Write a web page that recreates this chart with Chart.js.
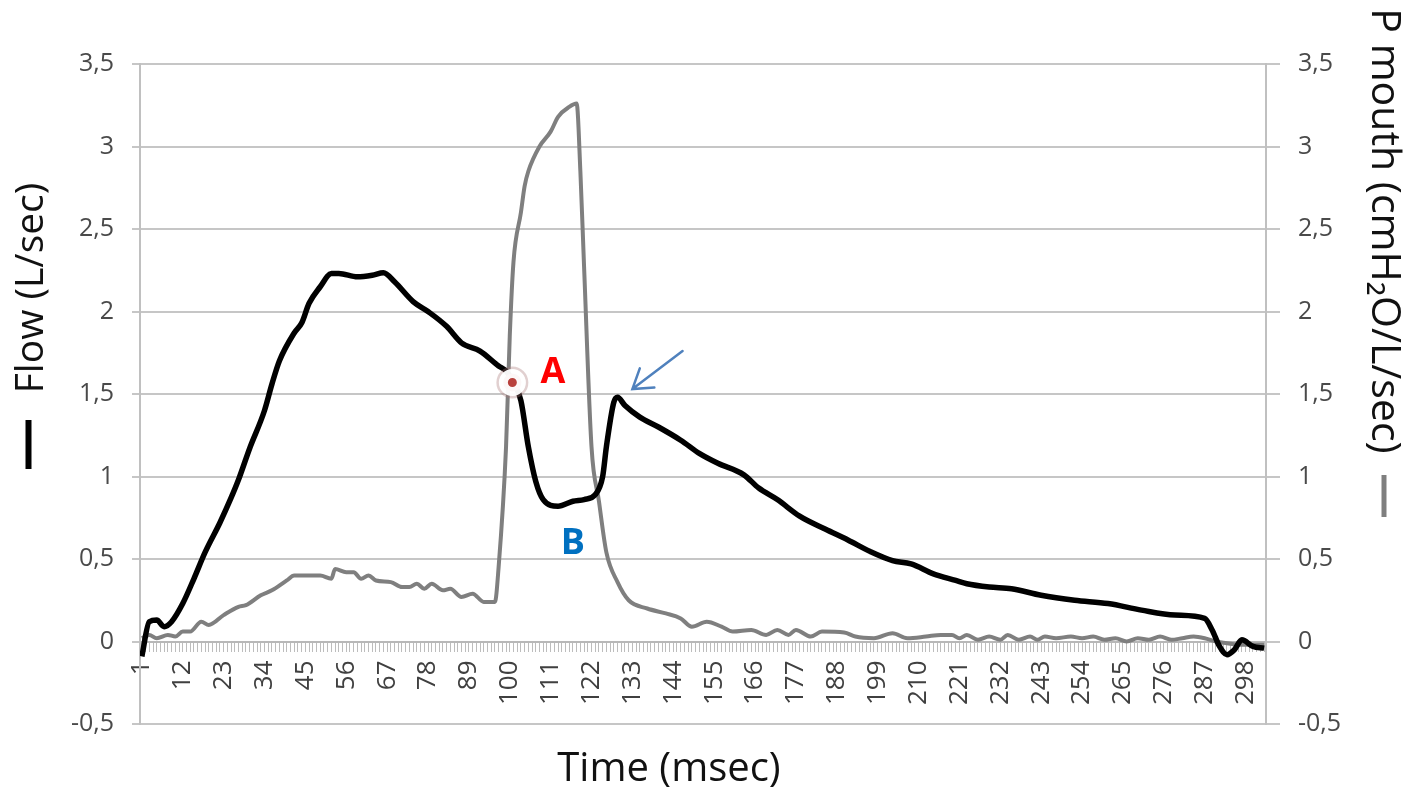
<!DOCTYPE html>
<html>
<head>
<meta charset="utf-8">
<script src="https://cdn.jsdelivr.net/npm/chart.js@4.4.1/dist/chart.umd.min.js"></script>
<style>
  html, body { margin: 0; padding: 0; background: #fff; }
  #wrap { width: 1423px; height: 798px; position: relative; }
</style>
</head>
<body>
<div id="wrap"><canvas id="flowChart"></canvas></div>
<script>
// Flow (L/sec), black line
const flowTime = [1, 3, 5, 7, 9, 12, 15, 18, 22, 25, 27, 30, 34, 36, 38, 42, 44, 46, 49, 52, 54, 59, 63, 66, 69, 74, 78, 83, 87, 92, 97, 99, 101, 103, 105, 107, 109, 113, 117, 120, 123, 125, 126, 128, 129, 131, 135, 140, 146, 151, 156, 163, 167, 172, 178, 185, 191, 197, 203, 208, 214, 220, 223, 229, 235, 243, 252, 261, 270, 279, 287, 289, 291, 293, 295, 297, 300, 303];
const flowValue = [-0.09, 0.12, 0.13, 0.09, 0.12, 0.23, 0.38, 0.54, 0.72, 0.87, 0.98, 1.17, 1.4, 1.56, 1.7, 1.87, 1.93, 2.05, 2.15, 2.23, 2.23, 2.21, 2.22, 2.235, 2.18, 2.06, 2.0, 1.91, 1.81, 1.76, 1.67, 1.64, 1.57, 1.46, 1.18, 0.97, 0.86, 0.82, 0.85, 0.86, 0.89, 1.0, 1.18, 1.45, 1.48, 1.43, 1.36, 1.30, 1.22, 1.14, 1.08, 1.01, 0.93, 0.86, 0.76, 0.68, 0.615, 0.545, 0.49, 0.47, 0.41, 0.37, 0.35, 0.33, 0.32, 0.28, 0.25, 0.23, 0.19, 0.16, 0.14, 0.07, -0.03, -0.08, -0.05, 0.01, -0.03, -0.04];

// P mouth (cmH2O/L/sec), gray line
const pressTime = [1, 3, 5, 8, 10, 12, 14, 17, 19, 23, 27, 29, 33, 36, 40, 42, 45, 49, 52, 53, 56, 58, 60, 62, 64, 68, 71, 73, 75, 77, 79, 82, 84, 87, 90, 93, 96, 97, 99, 100, 101, 103, 104, 105, 108, 111, 113, 116, 118, 119, 120, 122, 124, 126, 129, 132, 137, 142, 146, 149, 153, 157, 160, 165, 169, 172, 175, 177, 181, 184, 190, 193, 198, 203, 207, 212, 216, 219, 221, 223, 226, 229, 232, 234, 237, 240, 242, 244, 247, 251, 254, 257, 260, 263, 266, 269, 272, 275, 278, 281, 284, 287, 290, 293, 296, 299, 303];
const pressValue = [0.02, 0.04, 0.02, 0.04, 0.03, 0.06, 0.06, 0.12, 0.10, 0.16, 0.21, 0.22, 0.28, 0.31, 0.37, 0.40, 0.40, 0.40, 0.38, 0.44, 0.42, 0.42, 0.38, 0.40, 0.37, 0.36, 0.33, 0.33, 0.35, 0.32, 0.35, 0.31, 0.32, 0.27, 0.29, 0.24, 0.24, 0.45, 1.18, 1.85, 2.3, 2.6, 2.76, 2.85, 3.0, 3.09, 3.18, 3.24, 3.26, 2.85, 2.27, 1.18, 0.85, 0.54, 0.36, 0.25, 0.20, 0.17, 0.14, 0.09, 0.12, 0.09, 0.06, 0.07, 0.04, 0.07, 0.04, 0.07, 0.03, 0.06, 0.055, 0.03, 0.02, 0.05, 0.02, 0.03, 0.04, 0.04, 0.02, 0.04, 0.01, 0.03, 0.01, 0.04, 0.01, 0.03, 0.01, 0.03, 0.02, 0.03, 0.02, 0.03, 0.01, 0.02, 0.0, 0.02, 0.01, 0.03, 0.01, 0.02, 0.03, 0.02, 0.0, -0.01, -0.02, -0.02, -0.02];

// marked point A on the flow curve
const pointA = [{ x: 100.7, y: 1.57 }];

// tick labels
const xLabels = [1, 12, 23, 34, 45, 56, 67, 78, 89, 100, 111, 122, 133, 144, 155, 166, 177, 188, 199, 210, 221, 232, 243, 254, 265, 276, 287, 298];
const yTicks = [-0.5, 0, 0.5, 1, 1.5, 2, 2.5, 3, 3.5];
const sampleCount = 303;

// annotation anchors (data units)
const labelA = { text: 'A', x: 111.6, y: 1.63 };
const labelB = { text: 'B', x: 117, y: 0.59 };
const arrowFrom = { x: 146.5, y: 1.76 };
const arrowTo = { x: 133, y: 1.53 };

const leftTitle = 'Flow (L/sec)';
const rightTitle = 'P mouth (cmH\u2082O/L/sec)';
const bottomTitle = 'Time (msec)';

const FONT = '"Open Sans", "Noto Sans", sans-serif';
Chart.defaults.font.family = FONT;

const comma = v => String(v).replace('.', ',');

const axisTitles = {
    id: 'axisTitles',
    afterDraw(chart) {
        const ctx = chart.ctx;
        ctx.save();
        ctx.fillStyle = '#111';
        ctx.textAlign = 'center';
        ctx.textBaseline = 'middle';

        ctx.font = '39px ' + FONT;
        ctx.save();
        ctx.translate(32, 288);
        ctx.rotate(-Math.PI / 2);
        ctx.fillText(leftTitle, 0, 0);
        ctx.restore();

        ctx.font = '41px ' + FONT;
        ctx.save();
        ctx.translate(1384, 231);
        ctx.rotate(Math.PI / 2);
        ctx.fillText(rightTitle, 0, 0);
        ctx.restore();

        ctx.font = '40px ' + FONT;
        ctx.fillText(bottomTitle, 669, 770);

        // legend keys
        ctx.lineCap = 'butt';
        ctx.strokeStyle = '#000';
        ctx.lineWidth = 6;
        ctx.beginPath();
        ctx.moveTo(28.5, 420);
        ctx.lineTo(28.5, 469);
        ctx.stroke();

        ctx.strokeStyle = '#7f7f7f';
        ctx.lineWidth = 5;
        ctx.beginPath();
        ctx.moveTo(1384, 475);
        ctx.lineTo(1384, 517);
        ctx.stroke();
        ctx.restore();
    }
};

const marks = {
    id: 'marks',
    afterDatasetsDraw(chart) {
        const { ctx, scales: { x, y } } = chart;
        ctx.save();
        ctx.font = 'bold 36px ' + FONT;
        ctx.textAlign = 'center';
        ctx.textBaseline = 'middle';
        ctx.fillStyle = '#ff0000';
        ctx.fillText(labelA.text, x.getPixelForValue(labelA.x), y.getPixelForValue(labelA.y));
        ctx.fillStyle = '#0070c0';
        ctx.fillText(labelB.text, x.getPixelForValue(labelB.x), y.getPixelForValue(labelB.y));

        const x1 = x.getPixelForValue(arrowFrom.x), y1 = y.getPixelForValue(arrowFrom.y);
        const x2 = x.getPixelForValue(arrowTo.x), y2 = y.getPixelForValue(arrowTo.y);
        const ang = Math.atan2(y1 - y2, x1 - x2);
        const head = 22;
        ctx.strokeStyle = '#4f81bd';
        ctx.lineWidth = 2.5;
        ctx.lineCap = 'round';
        ctx.beginPath();
        ctx.moveTo(x1, y1);
        ctx.lineTo(x2, y2);
        ctx.moveTo(x2 + head * Math.cos(ang - 0.58), y2 + head * Math.sin(ang - 0.58));
        ctx.lineTo(x2, y2);
        ctx.lineTo(x2 + head * Math.cos(ang + 0.58), y2 + head * Math.sin(ang + 0.58));
        ctx.stroke();
        ctx.restore();
    }
};

const toPoints = (ts, vs) => ts.map((t, k) => ({ x: t, y: vs[k] }));

new Chart(document.getElementById('flowChart'), {
    type: 'line',
    data: {
        datasets: [
            {
                label: 'A',
                data: pointA,
                showLine: false,
                pointRadius: 9,
                pointBorderWidth: 9,
                pointBackgroundColor: '#b8403c',
                pointBorderColor: 'rgba(255,255,255,0.96)',
                yAxisID: 'y',
                order: 0
            },
            {
                label: 'A halo',
                data: pointA,
                showLine: false,
                pointRadius: 14.5,
                pointBorderWidth: 3,
                pointBackgroundColor: 'rgba(0,0,0,0)',
                pointBorderColor: 'rgba(170,120,120,0.35)',
                yAxisID: 'y',
                order: 0.5
            },
            {
                label: 'Flow',
                data: toPoints(flowTime, flowValue),
                borderColor: '#000',
                borderWidth: 5.5,
                pointRadius: 0,
                cubicInterpolationMode: 'monotone',
                yAxisID: 'y',
                order: 1
            },
            {
                label: 'P mouth',
                data: toPoints(pressTime, pressValue),
                borderColor: '#7f7f7f',
                borderWidth: 4,
                pointRadius: 0,
                cubicInterpolationMode: 'monotone',
                yAxisID: 'y2',
                order: 2
            }
        ]
    },
    options: {
        responsive: true,
        maintainAspectRatio: false,
        animation: false,
        layout: { padding: { top: 64, left: 0, right: 0, bottom: 74 } },
        plugins: {
            legend: { display: false },
            tooltip: { enabled: false }
        },
        scales: {
            x: {
                type: 'linear',
                position: { y: 0 },
                min: 0.5,
                max: sampleCount + 0.5,
                afterBuildTicks: s => {
                    s.ticks = Array.from({ length: sampleCount }, (_, k) => ({ value: k + 1 }));
                },
                ticks: {
                    autoSkip: false,
                    maxRotation: 90,
                    minRotation: 90,
                    padding: 10,
                    color: '#404040',
                    font: { size: 26 },
                    callback: v => xLabels.includes(v) ? String(v) : ''
                },
                grid: { drawOnChartArea: false, tickLength: 9, color: '#bdbdbd', lineWidth: 1 },
                border: { display: true, color: '#b8b8b8', width: 2 }
            },
            y: {
                position: 'left',
                min: -0.5,
                max: 3.5,
                afterFit: s => { s.width = 140; },
                afterBuildTicks: s => { s.ticks = yTicks.map(v => ({ value: v })); },
                ticks: { padding: 18, color: '#4a4a4a', font: { size: 25 }, callback: comma },
                grid: { color: '#c6c6c6', lineWidth: 2, tickLength: 8 },
                border: { display: true, color: '#c0c0c0', width: 2 }
            },
            y2: {
                position: 'right',
                min: -0.5,
                max: 3.5,
                afterFit: s => { s.width = 157; },
                afterBuildTicks: s => { s.ticks = yTicks.map(v => ({ value: v })); },
                ticks: { padding: 18, color: '#4a4a4a', font: { size: 25 }, callback: comma },
                grid: { drawOnChartArea: false, color: '#c6c6c6', lineWidth: 2, tickLength: 14 },
                border: { display: true, color: '#c0c0c0', width: 2 }
            }
        }
    },
    plugins: [marks, axisTitles]
});
</script>
</body>
</html>
